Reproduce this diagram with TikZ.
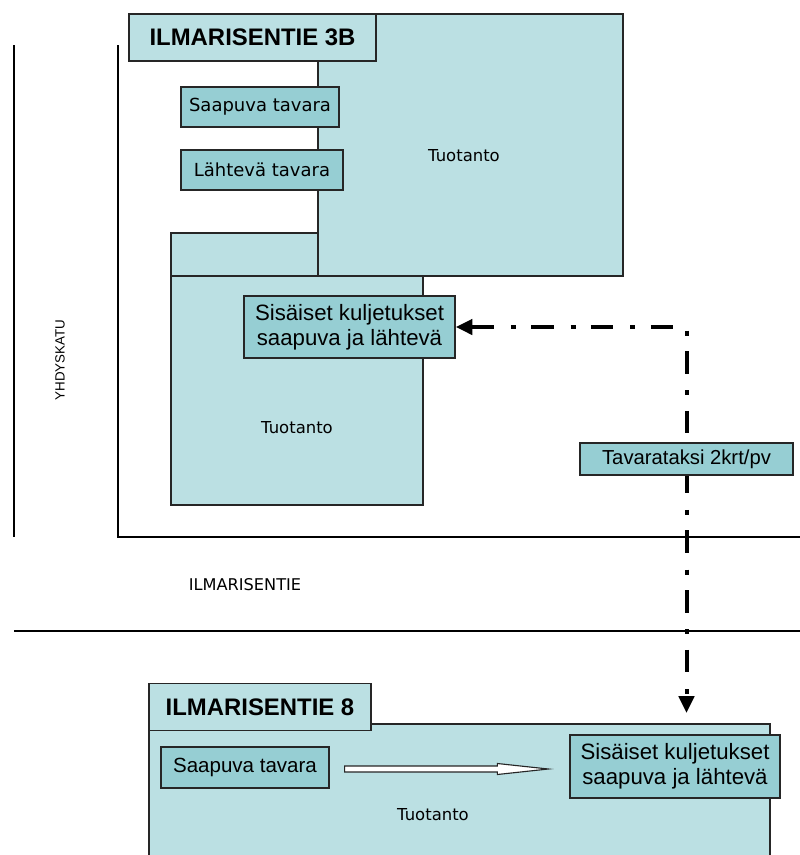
\documentclass[tikz,border=0pt]{standalone}
\usepackage{fontspec}
\setmainfont{Liberation Sans}
\newfontfamily\verdana{DejaVu Sans}
\usetikzlibrary{arrows.meta,calc}
\definecolor{hall}{RGB}{187,224,227}
\definecolor{tagfill}{RGB}{150,206,211}

\begin{document}
\begin{tikzpicture}[x=0.025cm, y=-0.025cm,
    street/.style = {line width=1.5pt},
    wall/.style = {draw=black!85, line width=0.9pt, fill=hall},
    namebox/.style = {wall, inner sep=0pt, minimum height=1.18cm,
        font=\bfseries\fontsize{17}{20}\selectfont},
    tagbox/.style = {draw=black!85, line width=0.9pt, fill=tagfill,
        inner sep=0pt, align=center},
    hallname/.style = {font=\verdana\fontsize{11.7}{14}\selectfont},
    taxiline/.style = {line width=2.85pt, line cap=butt, line join=miter,
        dash pattern=on 16pt off 12pt on 3.5pt off 11pt,
        {Triangle[length=0.42cm,width=0.38cm]}-{Triangle[length=0.42cm,width=0.38cm]}},
    hollow/.style = {draw=black!85, line width=0.8pt, fill=white}]
    \clip (0,0) rectangle (800,855);
    % kadut
    \draw[street] (14,45) -- (14,537);
    \draw[street] (118,45) -- (118,537) -- (800,537);
    \draw[street] (14,631) -- (800,631);
    \node[rotate=90, font=\fontsize{9.5}{11}\selectfont] (yhdys) at (60,360) {YHDYSKATU};
    \node[font=\verdana\fontsize{11.5}{13}\selectfont] (ilmari) at (245,585) {ILMARISENTIE};

    % Ilmarisentie 3B
    \draw[wall] (318,14) rectangle (623,276);
    \draw[wall] (171,233) rectangle (318,276);
    \draw[wall] (171,276) rectangle (423,505);
    \node[namebox, minimum width=6.175cm] (nimi3b) at (252.5,37.5) {ILMARISENTIE 3B};
    \node[tagbox, minimum width=3.95cm, minimum height=1cm,
        font=\verdana\fontsize{12.8}{15}\selectfont] (saap1) at (260,107) {Saapuva tavara};
    \node[tagbox, minimum width=4.05cm, minimum height=1cm,
        font=\verdana\fontsize{12.8}{15}\selectfont] (laht1) at (262,170) {Lähtevä tavara};
    \node[hallname] (tuot1) at (464,156) {Tuotanto};
    \node[hallname] (tuot2) at (297,428) {Tuotanto};
    \node[tagbox, minimum width=5.275cm, minimum height=1.55cm,
        font=\fontsize{15.8}{17.8}\selectfont] (sis1) at (349.5,327)
        {Sisäiset kuljetukset\\saapuva ja lähtevä};

    % tavarataksi
    \coordinate (drop) at (686.5,713);
    \draw[taxiline] (sis1.east) -| (drop);
    \node[tagbox, minimum width=5.325cm, minimum height=0.8cm,
        font=\fontsize{14.4}{16}\selectfont] (taxi) at (686.5,459) {Tavarataksi 2krt/pv};

    % Ilmarisentie 8
    \draw[wall] (149,724) rectangle (770,880);
    \node[namebox, minimum width=5.55cm] (nimi8) at (260,707) {ILMARISENTIE 8};
    \node[tagbox, minimum width=4.2cm, minimum height=1.025cm,
        font=\fontsize{14.6}{16}\selectfont] (saap2) at (245,767.5) {Saapuva tavara};
    \node[tagbox, minimum width=5.25cm, minimum height=1.575cm,
        font=\fontsize{15.8}{17.8}\selectfont] (sis2) at (675,766.5)
        {Sisäiset kuljetukset\\saapuva ja lähtevä};
    \node[hallname] (tuot3) at (433,815) {Tuotanto};
    \path ($(saap2.east)+(15,1.5)$) coordinate (hs) ($(sis2.west)+(-21,2.5)$) coordinate (ht);
    \draw[hollow] ($(hs)+(0,-3)$) -- ($(ht)+(-51,-3)$) -- ($(ht)+(-51,-5.5)$) -- (ht)
        -- ($(ht)+(-51,5.5)$) -- ($(ht)+(-51,3)$) -- ($(hs)+(0,3)$) -- cycle;
\end{tikzpicture}
\end{document}
